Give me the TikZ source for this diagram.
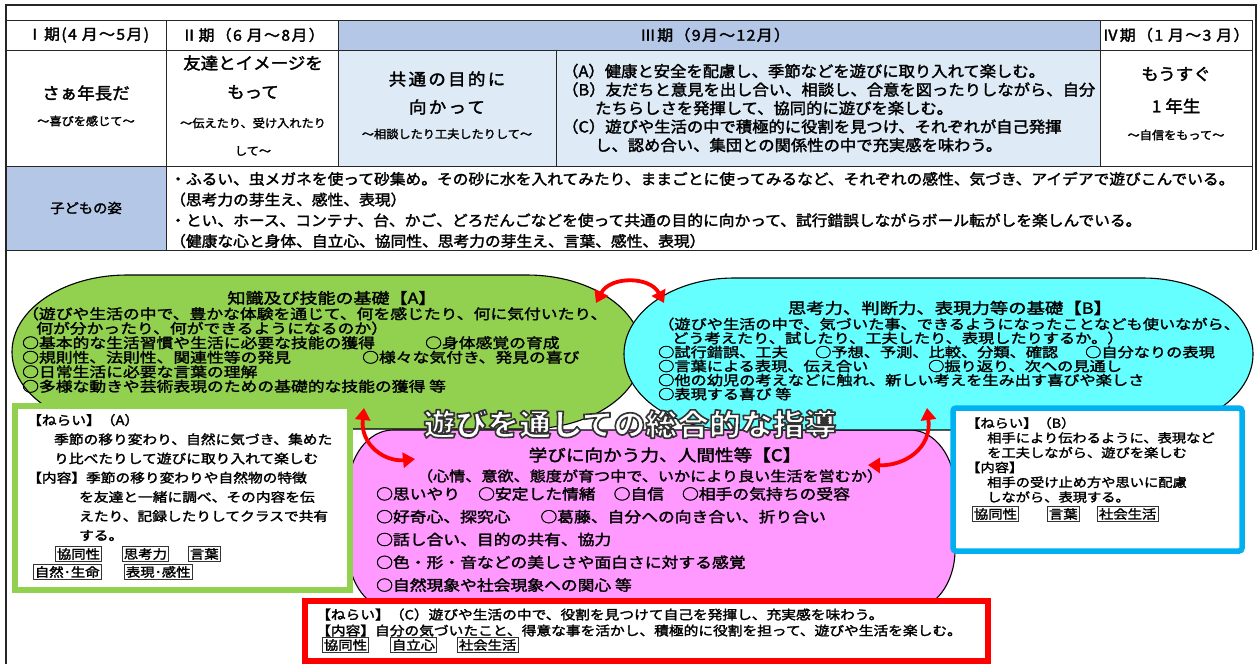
\documentclass[tikz,border=0pt]{standalone}
\usepackage{fontspec}
\setmainfont{Noto Sans CJK JP}
\newfontfamily\fA[FakeStretch=1.06,FakeBold=2]{Noto Sans CJK JP}
\newfontfamily\fB[FakeStretch=1.2,FakeBold=2]{Noto Sans CJK JP}
\newfontfamily\fC[FakeStretch=1.15,FakeBold=2]{Noto Sans CJK JP}
\newfontfamily\fT[FakeStretch=1.06,LetterSpace=14,FakeBold=2]{Noto Sans CJK JP}
\newfontfamily\fH[FakeStretch=1.06,LetterSpace=9,FakeBold=2]{Noto Sans CJK JP}
\newfontfamily\fTi[FakeStretch=1.06,FakeBold=5.5]{Noto Sans CJK JP}
\usetikzlibrary{arrows.meta}
\definecolor{hdrblue}{HTML}{B4C7E7}
\definecolor{cellblue}{HTML}{DEEBF7}
\definecolor{agreen}{HTML}{92D050}
\definecolor{bcyan}{HTML}{66FFFF}
\definecolor{cpink}{HTML}{FF99FF}
\definecolor{boxblue}{HTML}{00B0F0}
\definecolor{ared}{HTML}{FF0000}
\newcommand\fsz[2]{\fontsize{#1}{#2}\selectfont}
\newcommand\outlinetext[1]{\special{pdf:literal direct 1 j 0.2 0.2 0.2 RG}#1}
\begin{document}
\begin{tikzpicture}[x=1pt,y=-1pt,
  tbl/.style={line width=0.9pt, draw=black!85},
  lbl/.style={inner sep=0pt, text=black},
  hd/.style={lbl, font=\fH\fsz{15}{17}},
  ttl/.style={lbl, font=\fA\fsz{16.5}{20}},
  sub/.style={lbl, font=\fA\fsz{11.5}{14}},
  body/.style={lbl, anchor=west, align=left},
  tag/.style={draw=black!80, line width=0.8pt, inner xsep=1.5pt, inner ysep=1.5pt, anchor=west, text=black, font=\fC\fsz{12.5}{14}},
  bigshape/.style={draw=black, line width=1.1pt},
  redarrow/.style={draw=ared, line width=3.8pt, {Triangle[length=12pt,width=15pt]}-{Triangle[length=12pt,width=15pt]}},
  titlefont/.style={inner sep=0pt, font=\fTi\bfseries\fsz{30}{32}}
]
\useasboundingbox (0,0) rectangle (1257,664);
\fill[white] (0,0) rectangle (1257,664);

% ---------- table ----------
\fill[hdrblue] (338,20) rectangle (1100,50);
\fill[cellblue] (338,50) rectangle (1100,166);
\fill[hdrblue] (7,166) rectangle (166,250);
\draw[tbl] (7,20) -- (1252,20);
\draw[tbl] (7,50) -- (1252,50);
\draw[tbl] (7,166) -- (1252,166);
\draw[tbl] (7,250) -- (1252,250);
\draw[tbl] (166,20) -- (166,250);
\draw[tbl] (338,20) -- (338,166);
\draw[tbl] (556,50) -- (556,166);
\draw[tbl] (1100,20) -- (1100,166);
\draw[tbl] (1252,20) -- (1252,250);
\draw[line width=2.6pt, black!85] (6,664) -- (6,5) -- (1256,5) -- (1256,250);

\node[hd] (h1) at (88,35) {Ⅰ期(4 月～5月)};
\node[hd] (h2) at (253,35) {Ⅱ期（6 月～8月）};
\node[hd] (h3) at (715,35) {Ⅲ期（9月～12月）};
\node[hd] (h4) at (1176,35) {Ⅳ期（1 月～3 月）};

\node[ttl] (c1a) at (86,93) {さぁ年長だ};
\node[sub] (c1b) at (86,121) {～喜びを感じて～};
\node[ttl] (c2a) at (253,63) {友達とイメージを};
\node[ttl] (c2b) at (253,92) {もって};
\node[sub] (c2c) at (253,123) {～伝えたり、受け入れたり};
\node[sub] (c2d) at (253,151) {して～};
\node[lbl, font=\fT\fsz{16.5}{20}] (c3a) at (447,79) {共通の目的に};
\node[lbl, font=\fT\fsz{16.5}{20}] (c3b) at (447,107) {向かって};
\node[sub] (c3c) at (447,134) {～相談したり工夫したりして～};
\node[ttl] (c5a) at (1176,74) {もうすぐ};
\node[ttl] (c5b) at (1176,106) {1 年生};
\node[sub] (c5c) at (1176,135) {～自信をもって～};

\node[body, font=\fA\fsz{15.4}{18.5}] (c4) at (562,108) {%
（A）健康と安全を配慮し、季節などを遊びに取り入れて楽しむ。\\
（B）友だちと意見を出し合い、相談し、合意を図ったりしながら、自分\\
\hspace*{33pt}たちらしさを発揮して、協同的に遊びを楽しむ。\\
（C）遊びや生活の中で積極的に役割を見つけ、それぞれが自己発揮\\
\hspace*{33pt}し、認め合い、集団との関係性の中で充実感を味わう。};

\node[lbl, font=\fA\fsz{13.5}{16}] (kl) at (86,208) {子どもの姿};
\node[body, font=\fA\fsz{14.85}{20.7}] (kt) at (170,210) {%
・ふるい、虫メガネを使って砂集め。その砂に水を入れてみたり、ままごとに使ってみるなど、それぞれの感性、気づき、アイデアで遊びこんでいる。\\
（思考力の芽生え、感性、表現）\\
・とい、ホース、コンテナ、台、かご、どろだんごなどを使って共通の目的に向かって、試行錯誤しながらボール転がしを楽しんでいる。\\
（健康な心と身体、自立心、協同性、思考力の芽生え、言葉、感性、表現）};

% ---------- big shapes ----------
\path[bigshape, fill=cpink] (393,430) -- (910,430)
  arc[start angle=-90, end angle=0, x radius=45, y radius=60] -- (955,550)
  arc[start angle=0, end angle=90, x radius=45, y radius=60] -- (393,610)
  arc[start angle=90, end angle=180, x radius=45, y radius=60] -- (348,490)
  arc[start angle=180, end angle=270, x radius=45, y radius=60] -- cycle;
\path[bigshape, fill=agreen] (127,275) -- (527,275)
  arc[start angle=-90, end angle=90, x radius=115, y radius=77] -- (127,429)
  arc[start angle=90, end angle=270, x radius=115, y radius=77] -- cycle;
\path[bigshape, fill=bcyan] (734,278) -- (1143,278)
  arc[start angle=-90, end angle=90, x radius=110, y radius=76] -- (734,430)
  arc[start angle=90, end angle=270, x radius=110, y radius=76] -- cycle;

% ---------- A text ----------
\node[lbl, font=\fB\fsz{15}{16}] (at) at (332,298) {知識及び技能の基礎【A】};
\node[body, font=\fB\fsz{14}{14.5}] (ab) at (22,350) {%
（遊びや生活の中で、豊かな体験を通じて、何を感じたり、何に気付いたり、\\
\hspace*{14pt}何が分かったり、何ができるようになるのか）\\
\makebox[403pt][l]{○基本的な生活習慣や生活に必要な技能の獲得}○身体感覚の育成\\
\makebox[340pt][l]{○規則性、法則性、関連性等の発見}○様々な気付き、発見の喜び\\
○日常生活に必要な言葉の理解\\
○多様な動きや芸術表現のための基礎的な技能の獲得 等};

% ---------- B text ----------
\node[lbl, font=\fB\fsz{15.3}{16}] (bt) at (950,308) {思考力、判断力、表現力等の基礎【B】};
\node[body, font=\fB\fsz{13.5}{14}] (bb) at (658,359) {%
（遊びや生活の中で、気づいた事、できるようになったことなども使いながら、\\
\hspace*{14pt}どう考えたり、試したり、工夫したり、表現したりするか。）\\
\makebox[157pt][l]{○試行錯誤、工夫}\makebox[270pt][l]{○予想、予測、比較、分類、確認}○自分なりの表現\\
\makebox[270pt][l]{○言葉による表現、伝え合い}○振り返り、次への見通し\\
○他の幼児の考えなどに触れ、新しい考えを生み出す喜びや楽しさ\\
○表現する喜び 等};

% ---------- C text ----------
\node[lbl, font=\fC\fsz{16.2}{18}] (ct) at (665,455) {学びに向かう力、人間性等【C】};
\node[lbl, font=\fC\fsz{14}{16}] (cs) at (650,476) {（心情、意欲、態度が育つ中で、いかにより良い生活を営むか）};
\node[body, font=\fC\fsz{14.6}{22.8}] (cb) at (376,539.5) {%
○思いやり\hspace{18pt}○安定した情緒\hspace{18pt}○自信\hspace{18pt}○相手の気持ちの受容\\
○好奇心、探究心\hspace{30pt}○葛藤、自分への向き合い、折り合い\\
○話し合い、目的の共有、協力\\
○色・形・音などの美しさや面白さに対する感覚\\
○自然現象や社会現象への関心 等};

% ---------- boxes ----------
\draw[agreen, line width=5.5pt, fill=white] (15,406) rectangle (350,590);
\node[body, font=\fC\fsz{12.8}{19.2}] (gb) at (27,477.5) {%
【ねらい】（A）\\
\hspace*{27pt}季節の移り変わり、自然に気づき、集めた\\
\hspace*{27pt}り比べたりして遊びに取り入れて楽しむ\\
【内容】季節の移り変わりや自然物の特徴\\
\hspace*{52pt}を友達と一緒に調べ、その内容を伝\\
\hspace*{52pt}えたり、記録したりしてクラスで共有\\
\hspace*{52pt}する。};
\node[tag] (g1) at (55,554) {協同性};
\node[tag] (g2) at (122,554) {思考力};
\node[tag] (g3) at (188,554) {言葉};
\node[tag] (g4) at (33,572) {自然･生命};
\node[tag] (g5) at (124,572) {表現･感性};

\draw[boxblue, line width=5.5pt, fill=white, rounded corners=3pt] (953,408) rectangle (1242,551);
\node[body, font=\fC\fsz{12.4}{14.8}] (bl) at (966,460) {%
【ねらい】（B）\\
\hspace*{21pt}相手により伝わるように、表現など\\
\hspace*{21pt}を工夫しながら、遊びを楽しむ\\
【内容】\\
\hspace*{21pt}相手の受け止め方や思いに配慮\\
\hspace*{21pt}しながら、表現する。};
\node[tag] (b1) at (972,514) {協同性};
\node[tag] (b2) at (1047,514) {言葉};
\node[tag] (b3) at (1097,514) {社会生活};

\draw[ared, line width=5.5pt, fill=white] (305,601) rectangle (988,661);
\node[body, font=\fC\fsz{12.8}{16}] (rb) at (316,622.5) {%
【ねらい】（C）遊びや生活の中で、役割を見つけて自己を発揮し、充実感を味わう。\\
【内容】自分の気づいたこと、得意な事を活かし、積極的に役割を担って、遊びや生活を楽しむ。};
\node[tag] (r1) at (322,645) {協同性};
\node[tag] (r2) at (390,645) {自立心};
\node[tag] (r3) at (457,645) {社会生活};

% ---------- arrows ----------
\coordinate (a1s) at (596,303);
\coordinate (a1e) at (664,303);
\coordinate (a2s) at (364,408);
\coordinate (a2e) at (415,459);
\coordinate (a3s) at (927,408);
\coordinate (a3e) at (868,465);
\draw[redarrow] (a1s) .. controls (610,276) and (650,276) .. (a1e);
\draw[redarrow] (a2s) .. controls (360,445) and (385,462) .. (a2e);
\draw[redarrow] (a3s) .. controls (932,448) and (905,466) .. (a3e);

% ---------- title ----------
\node[titlefont, text=white] (title) at (630,424) {\outlinetext{遊びを通しての総合的な指導}};
\end{tikzpicture}
\end{document}
